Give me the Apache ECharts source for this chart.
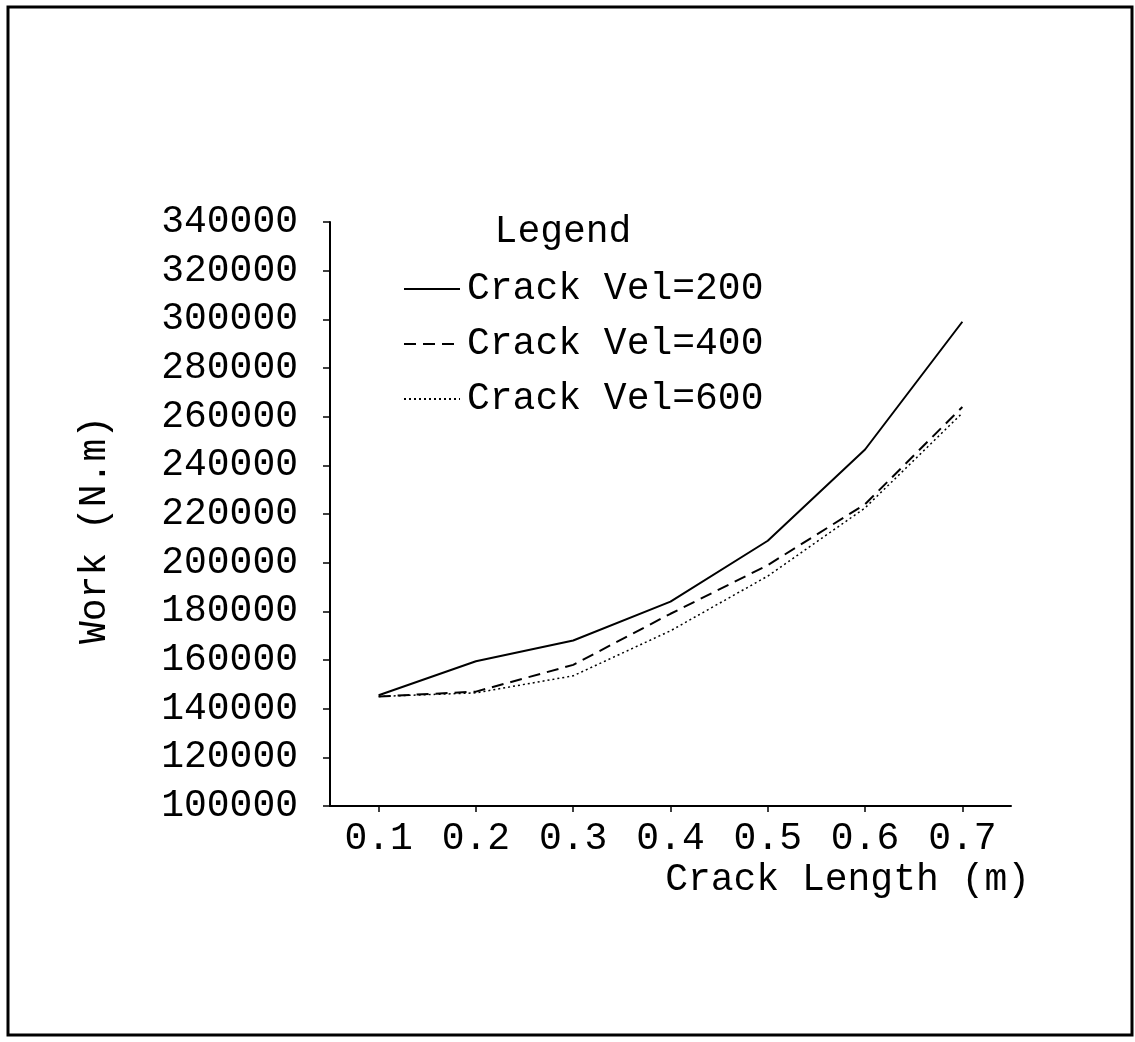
<!DOCTYPE html>
<html>
<head>
<meta charset="utf-8">
<script src="https://cdn.jsdelivr.net/npm/echarts@6/dist/echarts.min.js"></script>
<style>
html,body{margin:0;padding:0;background:#fff;}
#chart{width:1135px;height:1042px;}
</style>
</head>
<body>
<div id="chart"></div>
<script>
// Data
const crackLengths = ['0.1', '0.2', '0.3', '0.4', '0.5', '0.6', '0.7'];
const vel200 = [145500, 159500, 168000, 184000, 209000, 246500, 299000];
const vel400 = [145000, 147000, 158000, 179000, 199000, 224000, 264000];
const vel600 = [145000, 146500, 153500, 172000, 194500, 222500, 261500];
const seriesNames = ['Crack Vel=200', 'Crack Vel=400', 'Crack Vel=600'];
const yMin = 100000, yMax = 340000, yStep = 20000;

const FONT = '"Liberation Mono", "Courier New", monospace';
const chart = echarts.init(document.getElementById('chart'), null, {renderer: 'canvas'});

const mkSeries = (name, data, type, width) => ({
  name: name, type: 'line', data: data, symbol: 'none', showSymbol: false,
  lineStyle: {color: '#000', width: width, type: type}, itemStyle: {color: '#000'},
  z: 3, animation: false
});

chart.setOption({
  backgroundColor: '#fff',
  animation: false,
  grid: {left: 330, right: 124, top: 222, bottom: 236, containLabel: false, outerBoundsMode: 'none'},
  xAxis: {
    type: 'category', data: crackLengths, boundaryGap: true,
    axisLine: {lineStyle: {color: '#000', width: 2}},
    axisTick: {show: true, alignWithLabel: true, length: 6, lineStyle: {color: '#000', width: 1.5}},
    axisLabel: {color: '#000', fontFamily: FONT, fontSize: 38, margin: 14}
  },
  yAxis: {
    type: 'value', min: yMin, max: yMax, interval: yStep,
    splitLine: {show: false},
    axisLine: {show: true, lineStyle: {color: '#000', width: 2}},
    axisTick: {show: true, length: 7, lineStyle: {color: '#000', width: 1.5}},
    axisLabel: {color: '#000', fontFamily: FONT, fontSize: 38, margin: 32, formatter: v => String(v)}
  },
  legend: {
    orient: 'vertical', left: 398, top: 264,
    itemWidth: 56, itemHeight: 14, itemGap: 15,
    data: seriesNames,
    itemStyle: {opacity: 0, borderWidth: 0},
    textStyle: {color: '#000', fontFamily: FONT, fontSize: 38, lineHeight: 40, padding: [0,0,0,2]},
    selectedMode: false
  },
  series: [
    mkSeries(seriesNames[0], vel200, 'solid', 2),
    mkSeries(seriesNames[1], vel400, [12, 7], 2),
    mkSeries(seriesNames[2], vel600, [2, 3], 1.5)
  ],
  graphic: [
    {type: 'rect', shape: {x: 8, y: 7, width: 1124, height: 1028}, style: {fill: 'none', stroke: '#000', lineWidth: 3}, silent: true, z: 0},
    {type: 'text', x: 563, y: 232, style: {text: 'Legend', fill: '#000', font: '38px ' + FONT, textAlign: 'center', textVerticalAlign: 'middle'}},
    {type: 'text', x: 1030, y: 880, style: {text: 'Crack Length (m)', fill: '#000', font: '38px ' + FONT, textAlign: 'right', textVerticalAlign: 'middle'}},
    {type: 'text', x: 95, y: 530, rotation: Math.PI / 2, style: {text: 'Work (N.m)', fill: '#000', font: '38px ' + FONT, textAlign: 'center', textVerticalAlign: 'middle'}}
  ]
});
</script>
</body>
</html>
